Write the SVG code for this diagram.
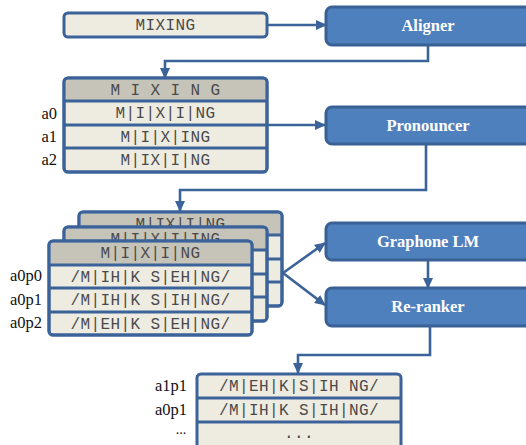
<svg xmlns="http://www.w3.org/2000/svg" width="526" height="445" viewBox="0 0 526 445">
<defs>
<style>
.tbl{fill:#eeece1;stroke:#3b6399;stroke-width:3}
.hdr{fill:#c6c4b8}
.div{stroke:#3b6399;stroke-width:3;fill:none}
.box{fill:#4f80be;stroke:#3a6196;stroke-width:3}
.bt{font-weight:bold;font-size:16.5px;fill:#ffffff;text-anchor:middle}
.mono{font-size:16px;fill:#4a4a4a;text-anchor:middle;letter-spacing:0.4px}
.lbl{font-size:16.5px;fill:#111;text-anchor:end}
.con{fill:none;stroke:#3b6399;stroke-width:2.6;marker-end:url(#ah)}
</style>
<marker id="ah" markerUnits="userSpaceOnUse" markerWidth="11" markerHeight="10" refX="10" refY="5" orient="auto">
<path d="M0,0 L11,5 L0,10 z" fill="#3b6399"/>
</marker>
</defs>
<rect width="526" height="445" fill="#ffffff"/>

<g id="input">
<rect class="tbl" x="64" y="13" width="203" height="24" rx="4"/>
<text class="mono" font-family="Liberation Mono, monospace" x="165.5" y="30">MIXING</text>
</g>

<g id="aligner">
<rect class="box" x="326" y="7" width="206" height="38" rx="6"/>
<text class="bt" font-family="Liberation Serif, serif" x="428" y="31">Aligner</text>
</g>

<g id="alignments">
<rect class="tbl" x="64" y="78" width="203" height="94" rx="4"/>
<path class="hdr" d="M65.5,101 V82 Q65.5,79.5 68,79.5 H263 Q265.5,79.5 265.5,82 V101 Z"/>
<path class="div" d="M64,101 H267 M64,125 H267 M64,148 H267"/>
<rect x="64" y="78" width="203" height="94" rx="4" fill="none" stroke="#3b6399" stroke-width="3"/>
<g font-family="Liberation Mono, monospace">
<text class="mono" x="165.5" y="95">M I X I N G</text>
<text class="mono" x="165.5" y="118">M|I|X|I|NG</text>
<text class="mono" x="165.5" y="142">M|I|X|ING</text>
<text class="mono" x="165.5" y="165">M|IX|I|NG</text>
</g>
<g font-family="Liberation Serif, serif">
<text class="lbl" x="57" y="119">a0</text>
<text class="lbl" x="57" y="142">a1</text>
<text class="lbl" x="57" y="165">a2</text>
</g>
</g>

<g id="pronouncer">
<rect class="box" x="326" y="107" width="206" height="37" rx="6"/>
<text class="bt" font-family="Liberation Serif, serif" x="428" y="131">Pronouncer</text>
</g>

<g id="stack-a2">
<rect class="tbl" x="79" y="212" width="203" height="94" rx="4"/>
<path class="hdr" d="M80.5,235 V216 Q80.5,213.5 83,213.5 H278 Q280.5,213.5 280.5,216 V235 Z"/>
<path class="div" d="M79,235 H282 M79,259 H282 M79,282 H282"/>
<rect x="79" y="212" width="203" height="94" rx="4" fill="none" stroke="#3b6399" stroke-width="3"/>
<text class="mono" font-family="Liberation Mono, monospace" x="180.5" y="229">M|IX|I|NG</text>
</g>

<g id="stack-a1">
<rect class="tbl" x="64" y="227" width="203" height="94" rx="4"/>
<path class="hdr" d="M65.5,250 V231 Q65.5,228.5 68,228.5 H263 Q265.5,228.5 265.5,231 V250 Z"/>
<path class="div" d="M64,250 H267 M64,274 H267 M64,297 H267"/>
<rect x="64" y="227" width="203" height="94" rx="4" fill="none" stroke="#3b6399" stroke-width="3"/>
<text class="mono" font-family="Liberation Mono, monospace" x="165.5" y="244">M|I|X|I|ING</text>
</g>

<g id="stack-a0">
<rect class="tbl" x="49" y="241" width="203" height="94" rx="4"/>
<path class="hdr" d="M50.5,265 V245 Q50.5,242.5 53,242.5 H248 Q250.5,242.5 250.5,245 V265 Z"/>
<path class="div" d="M49,265 H252 M49,288 H252 M49,312 H252"/>
<rect x="49" y="241" width="203" height="94" rx="4" fill="none" stroke="#3b6399" stroke-width="3"/>
<g font-family="Liberation Mono, monospace">
<text class="mono" x="150.5" y="258">M|I|X|I|NG</text>
<text class="mono" x="150.5" y="281.5">/M|IH|K S|EH|NG/</text>
<text class="mono" x="150.5" y="305">/M|IH|K S|IH|NG/</text>
<text class="mono" x="150.5" y="328.5">/M|EH|K S|EH|NG/</text>
</g>
<g font-family="Liberation Serif, serif">
<text class="lbl" x="42" y="281">a0p0</text>
<text class="lbl" x="42" y="305">a0p1</text>
<text class="lbl" x="42" y="328">a0p2</text>
</g>
</g>

<g id="graphone">
<rect class="box" x="326" y="223" width="206" height="37" rx="6"/>
<text class="bt" font-family="Liberation Serif, serif" x="428" y="247">Graphone LM</text>
</g>

<g id="reranker">
<rect class="box" x="326" y="288" width="206" height="38" rx="6"/>
<text class="bt" font-family="Liberation Serif, serif" x="428" y="312">Re-ranker</text>
</g>

<g id="output">
<rect class="tbl" x="197" y="374" width="204" height="90" rx="4"/>
<path class="div" d="M197,398 H401 M197,422 H401"/>
<g font-family="Liberation Mono, monospace">
<text class="mono" x="299" y="391">/M|EH|K|S|IH NG/</text>
<text class="mono" x="299" y="415">/M|IH|K S|IH|NG/</text>
<text class="mono" x="299" y="438">...</text>
</g>
<g font-family="Liberation Serif, serif">
<text class="lbl" x="187" y="391">a1p1</text>
<text class="lbl" x="187" y="415">a0p1</text>
<text class="lbl" x="181" y="434" style="text-anchor:middle;font-size:14px">...</text>
</g>
</g>

<g id="connectors">
<path class="con" d="M267,25 H326"/>
<path class="con" d="M428,45 V61 H165 V78"/>
<path class="con" d="M267,125 H325"/>
<path class="con" d="M426,144 V190 H180 V211"/>
<path class="con" d="M283,273 L325,243"/>
<path class="con" d="M283,273 L325,305"/>
<path class="con" d="M428,260 V288"/>
<path class="con" d="M430,326 V355 H298 V373"/>
</g>
</svg>
